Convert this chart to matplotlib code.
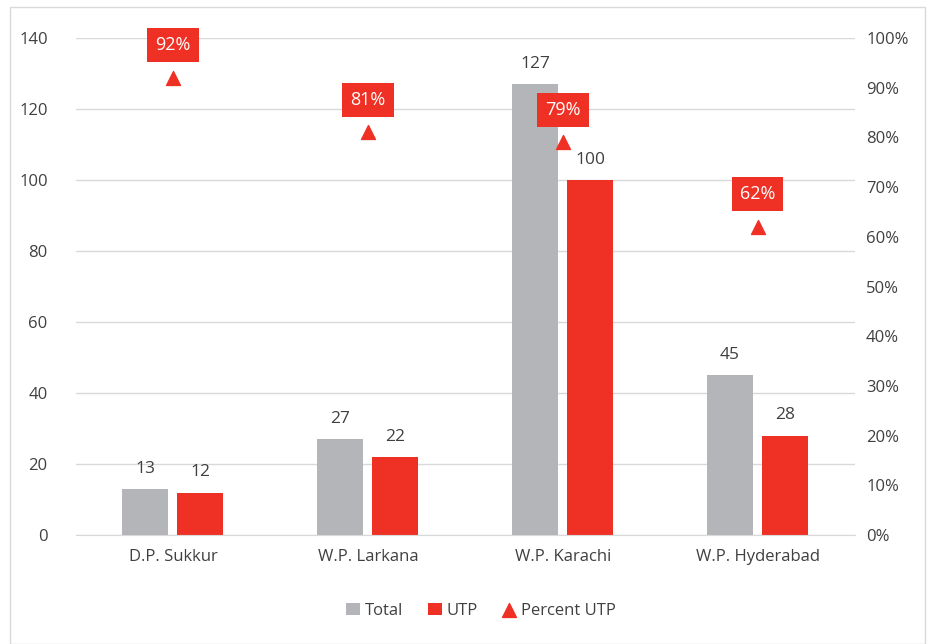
import matplotlib.pyplot as plt
import numpy as np

categories = ['D.P. Sukkur', 'W.P. Larkana', 'W.P. Karachi', 'W.P. Hyderabad']
total = [13, 27, 127, 45]
utp = [12, 22, 100, 28]
percent_utp = [0.92, 0.81, 0.79, 0.62]

gray = '#B4B5B8'
red = '#EE3124'
txt = '#404040'

plt.rcParams['font.family'] = ['Open Sans', 'DejaVu Sans']

fig = plt.figure(figsize=(9.29, 6.44), dpi=100)
ax = fig.add_axes([0.0813, 0.169, 0.839, 0.772])

# light border round the whole chart
fig.patches.append(plt.Rectangle((0.011, 0.0), 0.985, 0.989, transform=fig.transFigure,
                                 fill=False, edgecolor='#D9D9D9', linewidth=1))

x = np.arange(len(categories))
w = 0.236
off = 0.141
b1 = ax.bar(x - off, total, width=w, color=gray, label='Total', zorder=2)
b2 = ax.bar(x + off, utp, width=w, color=red, label='UTP', zorder=2)

for bars, vals in ((b1, total), (b2, utp)):
    for r, v in zip(bars, vals):
        ax.text(r.get_x() + r.get_width() / 2, v + 3.5, str(v), ha='center', va='bottom',
                fontsize=12.5, color=txt)

ax.set_ylim(0, 140)
ax.set_yticks(range(0, 141, 20))
ax.set_xlim(-0.5, 3.5)
ax.set_xticks(x)
ax.set_xticklabels(categories)
ax.grid(axis='y', color='#D9D9D9', linewidth=1, zorder=0)
ax.tick_params(axis='both', length=0, labelsize=12, labelcolor=txt, pad=10)
ax.tick_params(axis='y', pad=20)
for s in ax.spines.values():
    s.set_visible(False)
ax.spines['bottom'].set_visible(True)
ax.spines['bottom'].set_color('#D9D9D9')

ax2 = ax.twinx()
ax2.set_ylim(0, 1.0)
ax2.set_yticks(np.arange(0, 1.01, 0.1))
ax2.set_yticklabels([f'{int(round(t * 100))}%' for t in np.arange(0, 1.01, 0.1)])
ax2.tick_params(axis='y', length=0, labelsize=12, labelcolor=txt, pad=8)
for s in ax2.spines.values():
    s.set_visible(False)
tri = ax2.scatter(x, percent_utp, marker='^', s=100, color=red, label='Percent UTP', zorder=5)
for xi, p in zip(x, percent_utp):
    ax2.annotate(f'{int(round(p * 100))}%', (xi, p), xytext=(0, 17), textcoords='offset points',
                 ha='center', va='bottom', fontsize=13, color='white',
                 bbox=dict(boxstyle='square,pad=0.45', fc=red, ec='none'), zorder=6)

handles = [b1, b2, tri]
fig.legend(handles, ['Total', 'UTP', 'Percent UTP'], loc='center', bbox_to_anchor=(0.518, 0.052),
           ncol=3, frameon=False, fontsize=12, labelcolor=txt, handlelength=0.8,
           handletextpad=0.3, columnspacing=1.5)

fig.savefig('out.png', dpi=100)
